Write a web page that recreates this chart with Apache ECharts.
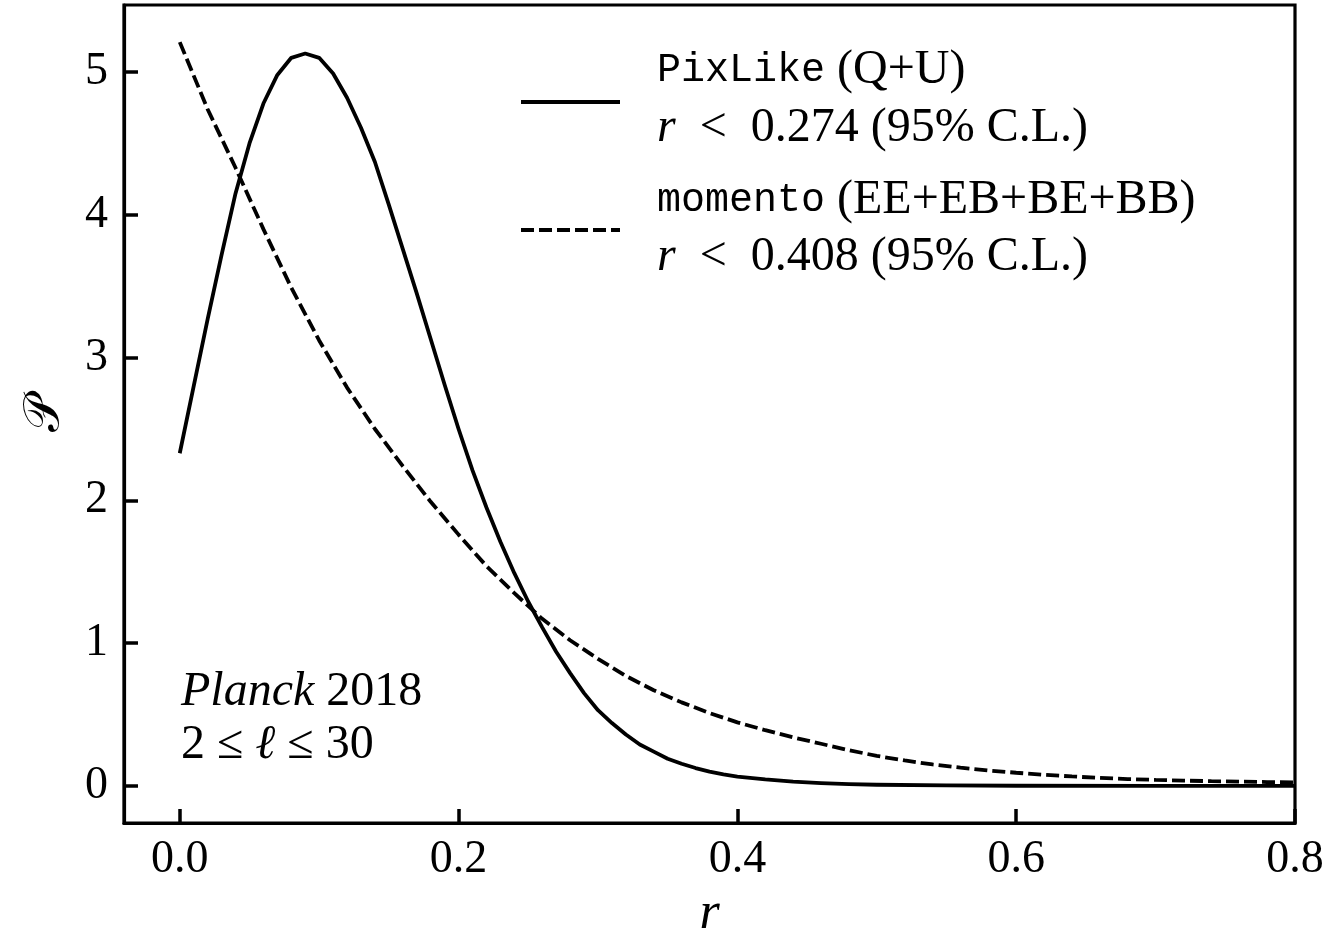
<!DOCTYPE html>
<html>
<head>
<meta charset="utf-8">
<script src="https://cdn.jsdelivr.net/npm/echarts@6/dist/echarts.min.js"></script>
<style>
  html, body { margin: 0; padding: 0; background: #fff; }
  #chart { width: 1330px; height: 934px; }
</style>
</head>
<body>
<div id="chart"></div>
<script>
// PixLike (Q+U) posterior of r
const pixR = [0.00, 0.01, 0.02, 0.03, 0.04, 0.05, 0.06, 0.07, 0.08, 0.09,
              0.10, 0.11, 0.12, 0.13, 0.14, 0.15, 0.16, 0.17, 0.18, 0.19,
              0.20, 0.21, 0.22, 0.23, 0.24, 0.25, 0.26, 0.27, 0.28, 0.29,
              0.30, 0.31, 0.32, 0.33, 0.34, 0.35, 0.36, 0.37, 0.38, 0.39,
              0.40, 0.42, 0.44, 0.46, 0.48, 0.50, 0.55, 0.60, 0.70, 0.80];
const pixP = [2.33, 2.80, 3.27, 3.72, 4.15, 4.50, 4.78, 4.98, 5.10, 5.13,
              5.10, 4.99, 4.82, 4.61, 4.37, 4.07, 3.76, 3.45, 3.13, 2.81,
              2.50, 2.21, 1.95, 1.71, 1.49, 1.29, 1.11, 0.94, 0.79, 0.65,
              0.53, 0.44, 0.36, 0.29, 0.24, 0.19, 0.155, 0.125, 0.10, 0.08,
              0.065, 0.045, 0.03, 0.02, 0.013, 0.008, 0.003, 0.001, 0.0, 0.0];

// momento (EE+EB+BE+BB) posterior of r
const momR = [0.00, 0.02, 0.04, 0.06, 0.08, 0.10, 0.12, 0.14, 0.16, 0.18,
              0.20, 0.22, 0.24, 0.26, 0.28, 0.30, 0.32, 0.34, 0.36, 0.38,
              0.40, 0.42, 0.44, 0.46, 0.48, 0.50, 0.52, 0.54, 0.56, 0.58,
              0.60, 0.62, 0.64, 0.66, 0.68, 0.70, 0.72, 0.74, 0.76, 0.78, 0.80];
const momP = [5.21, 4.74, 4.33, 3.90, 3.49, 3.12, 2.79, 2.50, 2.24, 1.99,
              1.76, 1.54, 1.35, 1.17, 1.02, 0.89, 0.77, 0.67, 0.585, 0.51,
              0.445, 0.39, 0.34, 0.295, 0.25, 0.21, 0.178, 0.15, 0.128, 0.108,
              0.092, 0.078, 0.066, 0.056, 0.048, 0.042, 0.037, 0.033, 0.030, 0.027, 0.025];

const xTicks = [0.0, 0.2, 0.4, 0.6, 0.8];
const yTicks = [0, 1, 2, 3, 4, 5];

const X_MIN = -0.04, X_MAX = 0.8;
const Y_MIN = -0.26, Y_MAX = 5.47;

const SERIF = '"Liberation Serif", "DejaVu Serif", serif';
const MONO = '"Liberation Mono", "DejaVu Sans Mono", monospace';
const INK = '#000';
const LW = 3.8;
const SPINE = 3.2;

const pairs = (xs, ys) => xs.map((x, i) => [x, ys[i]]);

const chart = echarts.init(document.getElementById('chart'), null, { renderer: 'canvas' });

const textRich = {
  m: { fontFamily: MONO, fontSize: 40, color: INK },
  s: { fontFamily: SERIF, fontSize: 48, color: INK },
  i: { fontFamily: SERIF, fontSize: 48, fontStyle: 'italic', color: INK }
};

chart.setOption({
  backgroundColor: '#fff',
  animation: false,
  grid: {
    left: 124, right: 35, top: 5, bottom: 111,
    outerBoundsMode: 'none',
    show: true, borderColor: INK, borderWidth: SPINE
  },
  xAxis: {
    type: 'value',
    min: X_MIN, max: X_MAX,
    name: 'r',
    nameLocation: 'middle',
    nameGap: 48,
    nameTextStyle: { fontFamily: SERIF, fontSize: 52, fontStyle: 'italic', color: INK },
    axisLine: { show: true, onZero: false, lineStyle: { color: INK, width: SPINE } },
    axisTick: { show: true, inside: true, length: 14, lineStyle: { color: INK, width: 3.5 }, customValues: xTicks },
    axisLabel: {
      margin: 14, fontFamily: SERIF, fontSize: 46, color: INK,
      customValues: xTicks,
      formatter: v => v.toFixed(1)
    },
    splitLine: { show: false }
  },
  yAxis: {
    type: 'value',
    min: Y_MIN, max: Y_MAX,
    name: '\u{1D4AB}',
    nameLocation: 'middle',
    nameGap: 54,
    nameRotate: 90,
    nameTextStyle: { fontFamily: '"DejaVu Serif", "DejaVu Sans", serif', fontSize: 50, color: INK },
    axisLine: { show: true, onZero: false, lineStyle: { color: INK, width: SPINE } },
    axisTick: { show: true, inside: true, length: 14, lineStyle: { color: INK, width: 3.5 }, customValues: yTicks },
    axisLabel: {
      margin: 16, fontFamily: SERIF, fontSize: 46, color: INK,
      customValues: yTicks,
      formatter: v => String(Math.round(v))
    },
    splitLine: { show: false }
  },
  series: [
    {
      name: 'PixLike',
      type: 'line',
      data: pairs(pixR, pixP),
      showSymbol: false,
      smooth: false,
      clip: true,
      lineStyle: { color: INK, width: LW, type: 'solid', join: 'round' }
    },
    {
      name: 'momento',
      type: 'line',
      data: pairs(momR, momP),
      showSymbol: false,
      smooth: false,
      clip: true,
      lineStyle: { color: INK, width: LW, type: [13, 5] }
    }
  ],
  graphic: [
    // legend keys
    { type: 'line', shape: { x1: 521, y1: 102, x2: 620, y2: 102 }, style: { stroke: INK, lineWidth: LW } },
    { type: 'line', shape: { x1: 521, y1: 230, x2: 620, y2: 230 }, style: { stroke: INK, lineWidth: LW, lineDash: [13, 5] } },
    // legend text
    { type: 'text', x: 657, y: 70, style: { text: '{m|PixLike}{s| (Q+U)}', rich: textRich, verticalAlign: 'middle', align: 'left' } },
    { type: 'text', x: 657, y: 128, style: { text: '{i|r}{s|  <  0.274 (95% C.L.)}', rich: textRich, verticalAlign: 'middle', align: 'left' } },
    { type: 'text', x: 657, y: 200, style: { text: '{m|momento}{s| (EE+EB+BE+BB)}', rich: textRich, verticalAlign: 'middle', align: 'left' } },
    { type: 'text', x: 657, y: 257, style: { text: '{i|r}{s|  <  0.408 (95% C.L.)}', rich: textRich, verticalAlign: 'middle', align: 'left' } },
    // data-set annotation
    { type: 'text', x: 181, y: 692, style: { text: '{i|Planck}{s| 2018}', rich: textRich, verticalAlign: 'middle', align: 'left' } },
    { type: 'text', x: 181, y: 745, style: { text: '{s|2 \u2264 }{i|\u2113}{s| \u2264 30}', rich: textRich, verticalAlign: 'middle', align: 'left' } }
  ]
});
</script>
</body>
</html>
